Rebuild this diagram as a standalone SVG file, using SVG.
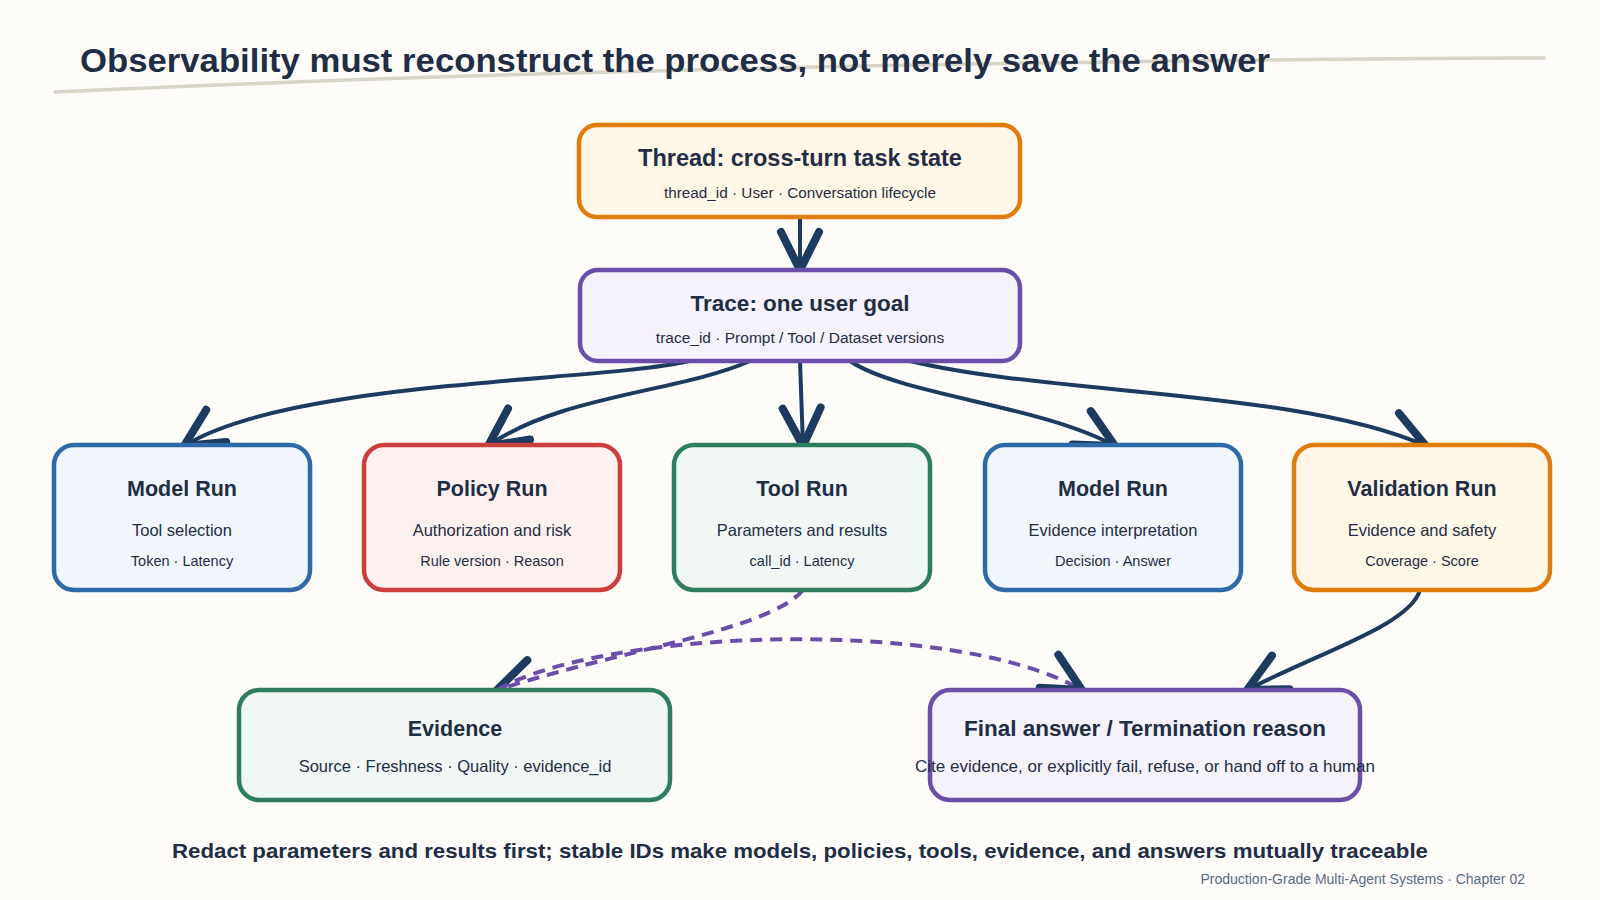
<svg xmlns="http://www.w3.org/2000/svg" width="1600" height="900" viewBox="0 0 1600 900">
<defs>
<style>
.t{font-family:"Liberation Sans",Arial,sans-serif;fill:#1f2d45;text-anchor:middle}
.h{font-weight:bold;font-size:21.5px}
.s{font-size:14.5px}
.m{font-size:16.5px}
.box{stroke-width:4.5}
.blue{fill:#f1f6fc;stroke:#2f6aa8}
.red{fill:#fdf1f0;stroke:#cc3e3e}
.green{fill:#f0f7f4;stroke:#2e7d5e}
.orange{fill:#fff7e8;stroke:#e07b0c}
.purple{fill:#f5f2fb;stroke:#6b4ea8}
.c{fill:none;stroke:#1d3a5f;stroke-width:4;stroke-linecap:round}
.d{fill:none;stroke:#6b4ea8;stroke-width:4;stroke-dasharray:12 8}
</style>
<marker id="ah" markerUnits="userSpaceOnUse" markerWidth="60" markerHeight="60" refX="0" refY="0" viewBox="-50 -30 60 60" orient="auto" overflow="visible">
<path d="M-38,-19 L0,0 L-38,19" fill="none" stroke="#1d3a5f" stroke-width="8" stroke-linecap="round" stroke-linejoin="miter"/>
</marker>
</defs>
<rect width="1600" height="900" fill="#fdfcf8"/>
<path d="M55,92 Q700,62 1544,58" fill="none" stroke="#d8d4c8" stroke-width="3.5" stroke-linecap="round"/>
<text x="80" y="72" font-family="Liberation Sans,Arial,sans-serif" font-weight="bold" font-size="33" fill="#1f2d45" textLength="1190" lengthAdjust="spacingAndGlyphs">Observability must reconstruct the process, not merely save the answer</text>

<g id="connectors">
<path class="c" d="M800,218 L800,270" marker-end="url(#ah)"/>
<path class="c" d="M689,361 C600,382 290,380 184,446" marker-end="url(#ah)"/>
<path class="c" d="M750,361 C680,392 560,395 488,446" marker-end="url(#ah)"/>
<path class="c" d="M800,361 L803,446" marker-end="url(#ah)"/>
<path class="c" d="M850,361 C900,395 1040,405 1115,446" marker-end="url(#ah)"/>
<path class="c" d="M910,361 C1050,395 1300,390 1426,446" marker-end="url(#ah)"/>
<path class="d" d="M803,590 C770,630 620,650 497,690" marker-end="url(#ah)"/>
<path class="d" d="M497,690 C600,630 950,615 1082,690" marker-end="url(#ah)"/>
<path class="c" d="M1420,590 C1410,625 1320,652 1247,690" marker-end="url(#ah)"/>
</g>

<g id="thread">
<rect class="box orange" x="579" y="125" width="441" height="92" rx="18"/>
<text class="t h" x="800" y="166" style="font-size:23.5px">Thread: cross-turn task state</text>
<text class="t s" x="800" y="198" style="font-size:15.3px">thread_id · User · Conversation lifecycle</text>
</g>
<g id="trace">
<rect class="box purple" x="580" y="270" width="440" height="91" rx="18"/>
<text class="t h" x="800" y="311" style="font-size:22.5px">Trace: one user goal</text>
<text class="t s" x="800" y="343" style="font-size:15.5px">trace_id · Prompt / Tool / Dataset versions</text>
</g>

<g id="model-run-1">
<rect class="box blue" x="54" y="445" width="256" height="145" rx="20"/>
<text class="t h" x="182" y="496">Model Run</text>
<text class="t m" x="182" y="536">Tool selection</text>
<text class="t s" x="182" y="566">Token · Latency</text>
</g>
<g id="policy-run">
<rect class="box red" x="364" y="445" width="256" height="145" rx="20"/>
<text class="t h" x="492" y="496">Policy Run</text>
<text class="t m" x="492" y="536">Authorization and risk</text>
<text class="t s" x="492" y="566">Rule version · Reason</text>
</g>
<g id="tool-run">
<rect class="box green" x="674" y="445" width="256" height="145" rx="20"/>
<text class="t h" x="802" y="496">Tool Run</text>
<text class="t m" x="802" y="536">Parameters and results</text>
<text class="t s" x="802" y="566">call_id · Latency</text>
</g>
<g id="model-run-2">
<rect class="box blue" x="985" y="445" width="256" height="145" rx="20"/>
<text class="t h" x="1113" y="496">Model Run</text>
<text class="t m" x="1113" y="536">Evidence interpretation</text>
<text class="t s" x="1113" y="566">Decision · Answer</text>
</g>
<g id="validation-run">
<rect class="box orange" x="1294" y="445" width="256" height="145" rx="20"/>
<text class="t h" x="1422" y="496">Validation Run</text>
<text class="t m" x="1422" y="536">Evidence and safety</text>
<text class="t s" x="1422" y="566">Coverage · Score</text>
</g>

<g id="evidence">
<rect class="box green" x="239" y="690" width="431" height="110" rx="20"/>
<text class="t h" x="455" y="736">Evidence</text>
<text class="t m" x="455" y="772">Source · Freshness · Quality · evidence_id</text>
</g>
<g id="final">
<rect class="box purple" x="930" y="690" width="430" height="110" rx="20"/>
<text class="t h" x="1145" y="736" style="font-size:22.5px">Final answer / Termination reason</text>
<text class="t m" x="1145" y="772" style="font-size:17px">Cite evidence, or explicitly fail, refuse, or hand off to a human</text>
</g>

<text x="800" y="858" font-family="Liberation Sans,Arial,sans-serif" font-weight="bold" font-size="21" fill="#1f2d45" text-anchor="middle" textLength="1256" lengthAdjust="spacingAndGlyphs">Redact parameters and results first; stable IDs make models, policies, tools, evidence, and answers mutually traceable</text>
<text x="1525" y="884" font-family="Liberation Sans,Arial,sans-serif" font-size="14" fill="#5a6b85" text-anchor="end">Production-Grade Multi-Agent Systems · Chapter 02</text>
</svg>
